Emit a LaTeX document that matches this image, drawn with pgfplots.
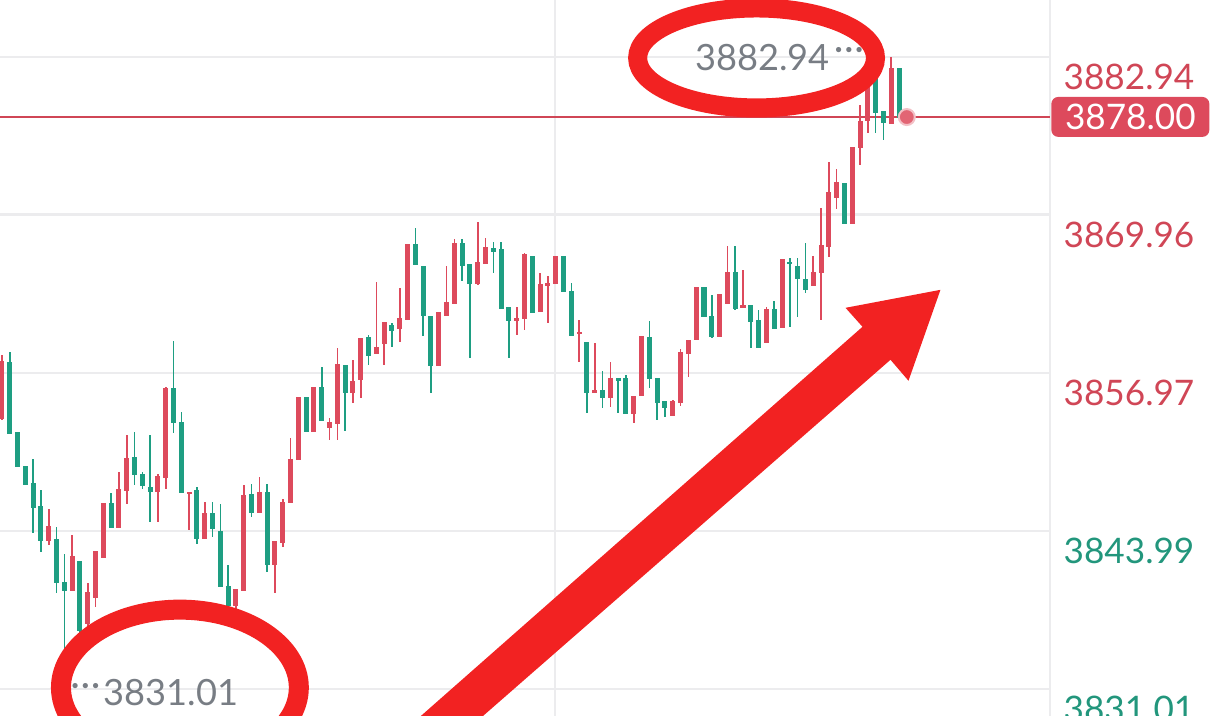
\documentclass[border=0pt]{standalone}
\usepackage{fontspec}
\setmainfont{Lato}
\usepackage{pgfplots}
\usepackage{pgfplotstable}
\pgfplotsset{compat=1.18}
\definecolor{cred}{RGB}{221,74,92}
\definecolor{cgreen}{RGB}{30,158,130}
\definecolor{lred}{RGB}{208,70,86}
\definecolor{lgreen}{RGB}{34,150,124}
\definecolor{gridc}{RGB}{236,236,238}
\definecolor{annot}{RGB}{242,34,34}
\definecolor{graytxt}{RGB}{120,125,132}

% up (red) candles: index open high low close
\pgfplotstableread{
i o h l c
0 3853.27 3858.45 3853.11 3857.96
6 3843.25 3845.80 3842.84 3844.40
9 3839.14 3843.66 3839.14 3841.93
11 3836.43 3839.72 3836.10 3838.98
12 3838.57 3842.34 3837.74 3842.34
13 3841.85 3846.21 3841.85 3846.21
15 3844.32 3848.84 3844.32 3847.36
16 3847.36 3851.88 3846.21 3849.99
20 3847.28 3848.67 3844.73 3848.43
21 3848.43 3855.82 3847.44 3855.66
24 3847.11 3847.19 3844.07 3847.19
26 3843.41 3846.37 3843.41 3845.39
30 3837.91 3839.14 3837.50 3839.14
31 3839.14 3847.77 3839.14 3846.95
33 3845.55 3848.43 3845.55 3847.11
35 3841.28 3843.08 3838.89 3843.08
36 3843.08 3846.62 3842.67 3846.37
37 3846.37 3851.63 3846.37 3849.90
38 3849.90 3854.92 3849.90 3854.92
40 3852.21 3855.74 3852.21 3855.74
42 3852.53 3853.27 3851.47 3852.86
43 3852.86 3859.03 3851.47 3857.63
45 3855.41 3858.04 3854.51 3856.23
46 3856.48 3859.85 3854.92 3859.85
48 3858.61 3864.45 3858.61 3859.03
49 3859.44 3861.08 3857.63 3861.08
51 3860.67 3863.96 3859.52 3861.41
52 3861.41 3867.49 3861.41 3867.49
56 3857.63 3861.90 3857.63 3861.90
57 3861.74 3865.76 3861.74 3862.72
58 3862.72 3867.98 3862.72 3867.65
61 3864.37 3869.38 3864.20 3866.01
62 3866.01 3868.06 3866.01 3867.32
66 3861.33 3862.39 3860.09 3861.49
67 3861.49 3866.83 3860.50 3866.67
69 3862.07 3865.19 3862.07 3864.20
70 3864.20 3864.94 3861.08 3864.37
71 3864.37 3866.58 3864.37 3866.58
74 3860.26 3861.33 3857.87 3860.34
76 3855.41 3859.44 3855.41 3855.57
78 3855.00 3857.87 3854.18 3856.56
81 3853.68 3855.08 3852.86 3855.08
82 3855.16 3859.93 3855.16 3859.93
86 3853.52 3854.75 3853.52 3854.59
87 3854.59 3858.94 3854.26 3858.61
88 3858.61 3859.68 3856.64 3859.68
89 3859.76 3863.96 3859.76 3863.96
92 3860.01 3863.38 3860.01 3863.38
93 3862.72 3867.41 3862.72 3865.19
95 3862.39 3865.43 3862.39 3862.48
98 3859.44 3862.39 3859.44 3862.15
100 3860.75 3866.26 3860.75 3866.26
104 3864.20 3866.58 3864.20 3865.19
105 3865.27 3870.53 3861.33 3867.41
106 3867.41 3874.31 3866.50 3871.76
107 3871.43 3873.73 3870.45 3872.58
109 3869.30 3875.54 3869.30 3875.54
110 3875.54 3878.99 3874.06 3877.60
111 3877.76 3881.62 3876.69 3881.62
114 3877.51 3882.94 3877.51 3882.03
}\upc

% down (green) candles: index open high low close
\pgfplotstableread{
i o h l c
1 3857.87 3858.70 3851.96 3852.04
2 3852.04 3852.04 3849.33 3849.33
3 3849.25 3849.25 3847.85 3847.85
4 3847.85 3849.90 3843.82 3845.96
5 3845.96 3847.36 3842.26 3843.25
7 3843.25 3844.32 3838.89 3839.80
8 3839.80 3842.10 3831.01 3839.14
10 3841.44 3841.44 3835.03 3835.85
14 3846.21 3847.11 3844.32 3844.32
17 3849.99 3852.12 3847.77 3848.67
18 3848.67 3848.84 3847.44 3847.77
19 3847.52 3851.88 3844.73 3847.28
22 3855.66 3859.60 3852.04 3852.94
23 3852.86 3853.77 3847.19 3847.19
25 3847.28 3847.60 3842.92 3843.41
27 3845.39 3846.37 3843.49 3844.23
28 3843.99 3846.21 3839.47 3839.47
29 3839.47 3841.19 3837.50 3837.91
32 3846.95 3847.85 3845.14 3845.55
34 3847.11 3847.85 3840.62 3841.28
39 3854.92 3854.92 3852.21 3852.21
41 3855.74 3857.46 3853.11 3853.11
44 3857.63 3857.63 3852.21 3855.41
47 3859.85 3860.09 3857.63 3858.45
50 3860.91 3861.08 3859.11 3860.50
53 3867.49 3868.89 3865.93 3865.93
54 3865.76 3865.76 3860.01 3861.74
55 3861.65 3861.65 3855.33 3857.63
59 3867.65 3867.98 3864.53 3865.85
60 3865.85 3865.85 3858.20 3864.37
63 3867.24 3867.73 3865.19 3867.00
64 3867.08 3867.73 3862.31 3862.31
65 3862.39 3862.39 3858.20 3861.33
68 3866.58 3866.58 3861.98 3861.98
72 3866.50 3866.50 3863.71 3863.71
73 3863.63 3864.37 3860.09 3860.09
75 3859.44 3859.44 3853.68 3855.41
77 3855.57 3857.14 3854.10 3855.00
79 3856.48 3856.48 3853.68 3856.40
80 3856.48 3856.81 3853.68 3853.68
83 3859.93 3861.24 3855.74 3856.56
84 3856.48 3856.48 3853.11 3854.59
85 3854.59 3854.67 3853.36 3854.18
90 3863.96 3863.96 3861.65 3861.65
91 3861.65 3863.38 3859.85 3860.01
94 3865.19 3867.41 3862.15 3862.31
96 3862.48 3862.48 3859.03 3861.24
97 3861.24 3862.15 3859.11 3859.11
99 3862.15 3862.89 3860.59 3860.67
101 3866.09 3866.42 3860.75 3866.01
102 3865.76 3866.42 3861.57 3864.78
103 3864.69 3867.65 3863.54 3863.87
108 3872.58 3872.58 3869.30 3869.30
112 3881.62 3881.62 3876.69 3878.42
113 3878.42 3878.42 3876.12 3877.60
115 3881.95 3881.95 3878.00 3878.00
}\downc

\pgfplotsset{
  candle/.style 2 args={draw=none, mark=none, forget plot,
    error bars/.cd, y dir=both, y explicit, error mark=none,
    error bar style={draw=#1, line width=#2, solid}},
}

\begin{document}
\begin{tikzpicture}
\path[use as bounding box] (0,0) rectangle (12.12,7.16);
\begin{axis}[
  at={(0,0)}, anchor=south west,
  scale only axis, width=10.5cm, height=7.16cm,
  xmin=-0.2564, xmax=134.36, ymin=3828.79, ymax=3887.62,
  axis line style={draw=none},
  xtick={70.9,134.36}, xticklabels={}, xmajorgrids,
  ytick={3831.01,3843.99,3856.97,3869.96,3882.94},
  yticklabels={\textcolor{lgreen}{3831.01},\textcolor{lgreen}{3843.99},\textcolor{lred}{3856.97},\textcolor{lred}{3869.96},\textcolor{lred}{3882.94}},
  ymajorgrids,
  grid style={gridc, line width=0.8pt},
  major tick length=0pt,
  yticklabel pos=right,
  yticklabel style={anchor=west, inner sep=0pt, xshift=0.13cm, yshift=-0.2cm, font=\fontsize{10}{12}\selectfont},
  /pgf/number format/assume math mode=true,
]
\addplot[lred, line width=0.012cm, mark=none] coordinates {(-0.3,3878) (134.36,3878)};
% wicks
\addplot[candle={cred}{0.016cm}]
  table[x=i, y expr={(\thisrow{h}+\thisrow{l})/2}, y error expr={(\thisrow{h}-\thisrow{l})/2}] {\upc};
\addplot[candle={cgreen}{0.016cm}]
  table[x=i, y expr={(\thisrow{h}+\thisrow{l})/2}, y error expr={(\thisrow{h}-\thisrow{l})/2}] {\downc};
% bodies
\addplot[candle={cred}{0.05cm}]
  table[x=i, y expr={(\thisrow{o}+\thisrow{c})/2}, y error expr={(\thisrow{c}-\thisrow{o})/2+0.05}] {\upc};
\addplot[candle={cgreen}{0.05cm}]
  table[x=i, y expr={(\thisrow{o}+\thisrow{c})/2}, y error expr={(\thisrow{o}-\thisrow{c})/2+0.05}] {\downc};
% last price dot
\addplot[only marks, mark=*, mark size=0.08cm, mark options={fill=cred!85, draw=cred!35, line width=0.02cm}] coordinates {(116.0,3878)};
\end{axis}
\begin{scope}[x=0.01cm, y=-0.01cm, shift={(0,7.16cm)}]
  \node[fill=cred, text=white, rounded corners=0.07cm, minimum width=1.58cm, minimum height=0.40cm, inner sep=0pt, font=\fontsize{10}{12}\selectfont] at (1131,117) {3878.00};
  \draw[annot, line width=0.19cm] (757,58) ellipse [x radius=119, y radius=50];
  \draw[annot, line width=0.20cm] (180,688) ellipse [x radius=119, y radius=78];
  \fill[annot] (400,735) -- (863,327) -- (846,308) -- (941,290) -- (909,381) -- (891,360) -- (462,735) -- cycle;
  \node[graytxt, anchor=east, inner sep=0pt, font=\fontsize{10.3}{12}\selectfont] at (831,58) {3882.94};
  \node[graytxt, anchor=west, inner sep=0pt, font=\fontsize{10}{12}\selectfont] at (834,54) {\textperiodcentered\kern0.3pt\textperiodcentered\kern0.3pt\textperiodcentered};
  \node[graytxt, anchor=west, inner sep=0pt, font=\fontsize{10.3}{12}\selectfont] at (103,693) {3831.01};
  \node[graytxt, anchor=east, inner sep=0pt, font=\fontsize{10}{12}\selectfont] at (101,690) {\textperiodcentered\kern0.3pt\textperiodcentered\kern0.3pt\textperiodcentered};
\end{scope}
\end{tikzpicture}
\end{document}
